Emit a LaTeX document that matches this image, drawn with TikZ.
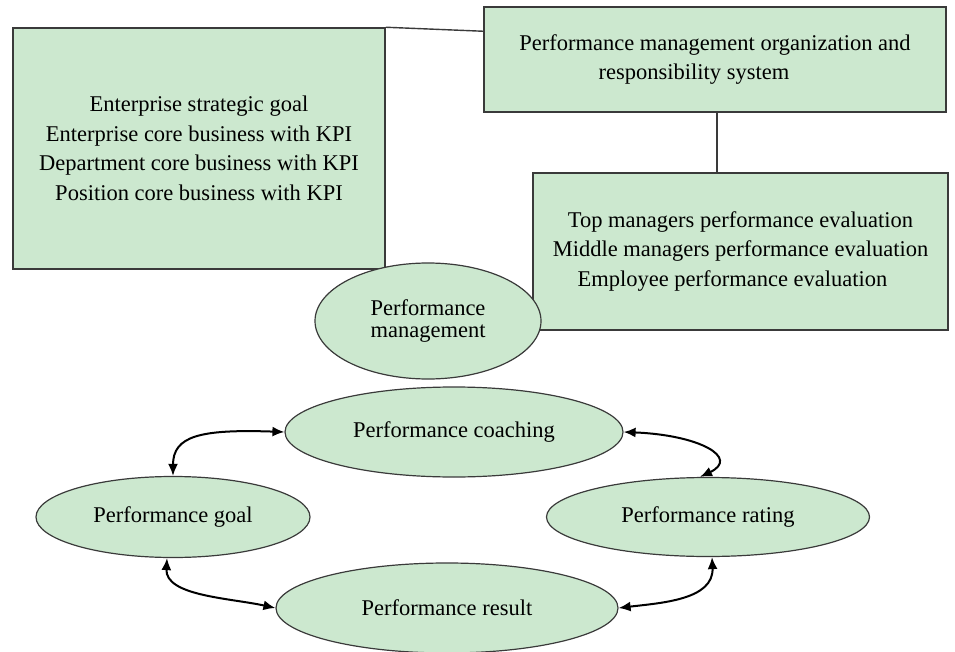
\documentclass[tikz,border=0pt]{standalone}
\usepackage{fontspec}
\setmainfont{Liberation Serif}
\usetikzlibrary{shapes.geometric,arrows.meta}
\definecolor{boxfill}{HTML}{CCE8CF}
\definecolor{edgegray}{HTML}{3A3A3A}
\begin{document}
\begin{tikzpicture}[x=1pt,y=-1pt,
  box/.style={draw=edgegray, line width=1.5pt, fill=boxfill, rectangle, inner sep=0pt,
    align=center, font=\fontsize{22.5}{29.5}\selectfont},
  oval/.style={draw=edgegray, line width=1.2pt, fill=boxfill, ellipse, inner sep=0pt,
    align=center, font=\fontsize{22.5}{22}\selectfont},
  link/.style={draw=edgegray, line width=1.4pt},
  arr/.style={line width=2pt, draw=black,
    {Latex[length=12pt,width=10pt]}-{Latex[length=12pt,width=10pt]}}
]
\useasboundingbox (0,0) rectangle (955,652);

% boxes
\node[box, minimum width=372pt, minimum height=241pt] (lbox) at (199,148.5)
  {Enterprise strategic goal\\Enterprise core business with KPI\\Department core business with KPI\\Position core business with KPI};
\node[box, minimum width=462pt, minimum height=105pt] (tbox) at (715,59.5)
  {Performance management organization and\\responsibility system\hspace*{42pt}};
\node[box, minimum width=415pt, minimum height=157pt] (rbox) at (740.5,251.5)
  {Top managers performance evaluation\\Middle managers performance evaluation\\Employee performance evaluation\hspace*{16pt}};

% box connectors
\draw[link] (lbox.north east) -- ([yshift=-25pt]tbox.north west);
\draw[link] ([xshift=2pt]tbox.south) -- ([xshift=2pt]tbox.south |- rbox.north);

% ellipses
\node[oval, minimum width=226pt, minimum height=116pt] (pm) at (428,321)
  {Performance\\management};
\node[oval, minimum width=338pt, minimum height=90pt] (coach) at (454,432)
  {Performance coaching};
\node[oval, minimum width=274pt, minimum height=81pt] (goal) at (173,517)
  {Performance goal};
\node[oval, minimum width=323pt, minimum height=79pt] (rating) at (708,517)
  {Performance rating};
\node[oval, minimum width=342pt, minimum height=90pt] (result) at (447,608)
  {Performance result};

% cycle arrows
\draw[arr] (coach.west) .. controls (200,429) and (173,436) .. (goal.north);
\draw[arr] (coach.east) .. controls (700,435) and (740,458) .. ([xshift=-8pt]rating.north);
\draw[arr] ([xshift=-6pt]goal.south) .. controls (165,596) and (230,598) .. (result.west);
\draw[arr] ([xshift=4pt]rating.south) .. controls (714,600) and (660,603) .. (result.east);
\end{tikzpicture}
\end{document}
